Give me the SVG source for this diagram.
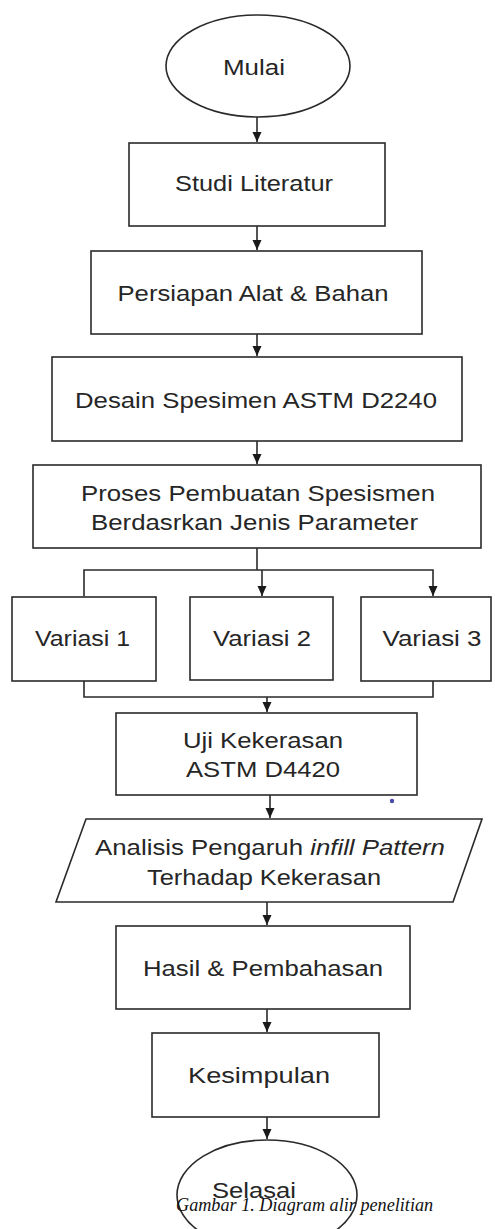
<svg xmlns="http://www.w3.org/2000/svg" width="495" height="1229" viewBox="0 0 495 1229">
<style>
.box{fill:#fff;stroke:#2a2a2a;stroke-width:1.6}
.t{font-family:"Liberation Sans",Arial,sans-serif;font-size:22px;fill:#262626;text-anchor:middle}
.ln{fill:none;stroke:#2a2a2a;stroke-width:1.6}
.cap{font-family:"Liberation Serif","Times New Roman",serif;font-style:italic;font-size:18.2px;fill:#111}
</style>
<defs>
<marker id="ah" viewBox="0 0 10 10" refX="10" refY="5" markerWidth="10" markerHeight="10" markerUnits="userSpaceOnUse" orient="auto">
<path d="M0,0.5 L10,5 L0,9.5 Z" fill="#1a1a1a"/>
</marker>
</defs>
<rect width="495" height="1229" fill="#fff"/>
<g id="connectors">
<line class="ln" x1="257" y1="117" x2="257" y2="142" marker-end="url(#ah)"/>
<line class="ln" x1="257" y1="226" x2="257" y2="250" marker-end="url(#ah)"/>
<line class="ln" x1="257" y1="334" x2="257" y2="356" marker-end="url(#ah)"/>
<line class="ln" x1="257" y1="441" x2="257" y2="464" marker-end="url(#ah)"/>
<polyline class="ln" points="257,548 257,570"/>
<polyline class="ln" points="84,596 84,570 433,570 433,596" marker-start="url(#ah)" marker-end="url(#ah)"/>
<line class="ln" x1="262" y1="570" x2="262" y2="596" marker-end="url(#ah)"/>
<polyline class="ln" points="84,681 84,697 433,697 433,681"/>
<line class="ln" x1="267" y1="697" x2="267" y2="712" marker-end="url(#ah)"/>
<line class="ln" x1="270" y1="795" x2="270" y2="818" marker-end="url(#ah)"/>
<line class="ln" x1="267" y1="902" x2="267" y2="925" marker-end="url(#ah)"/>
<line class="ln" x1="267" y1="1009" x2="267" y2="1032" marker-end="url(#ah)"/>
<line class="ln" x1="267" y1="1117" x2="267" y2="1139" marker-end="url(#ah)"/>
</g>
<g id="mulai">
<ellipse class="box" cx="258" cy="66" rx="92" ry="51"/>
<text class="t" x="254" y="75" textLength="62" lengthAdjust="spacingAndGlyphs">Mulai</text>
</g>
<g id="studi">
<rect class="box" x="129" y="143" width="256" height="83"/>
<text class="t" x="254" y="191" textLength="158" lengthAdjust="spacingAndGlyphs">Studi Literatur</text>
</g>
<g id="persiapan">
<rect class="box" x="91" y="251" width="331" height="83"/>
<text class="t" x="253" y="301" textLength="271" lengthAdjust="spacingAndGlyphs">Persiapan Alat &amp; Bahan</text>
</g>
<g id="desain">
<rect class="box" x="52" y="357" width="410" height="84"/>
<text class="t" x="256" y="408" textLength="362" lengthAdjust="spacingAndGlyphs">Desain Spesimen ASTM D2240</text>
</g>
<g id="proses">
<rect class="box" x="33" y="465" width="448" height="83"/>
<text class="t" x="258" y="501" textLength="354" lengthAdjust="spacingAndGlyphs">Proses Pembuatan Spesismen</text>
<text class="t" x="254.5" y="530" textLength="327" lengthAdjust="spacingAndGlyphs">Berdasrkan Jenis Parameter</text>
</g>
<g id="variasi1">
<rect class="box" x="12" y="597" width="144" height="84"/>
<text class="t" x="82.5" y="646" textLength="95" lengthAdjust="spacingAndGlyphs">Variasi 1</text>
</g>
<g id="variasi2">
<rect class="box" x="190" y="597" width="143" height="83"/>
<text class="t" x="262" y="646" textLength="98" lengthAdjust="spacingAndGlyphs">Variasi 2</text>
</g>
<g id="variasi3">
<rect class="box" x="361" y="597" width="130" height="84"/>
<text class="t" x="432" y="646" textLength="99" lengthAdjust="spacingAndGlyphs">Variasi 3</text>
</g>
<g id="uji">
<rect class="box" x="116" y="713" width="301" height="82"/>
<text class="t" x="263" y="748" textLength="160" lengthAdjust="spacingAndGlyphs">Uji Kekerasan</text>
<text class="t" x="263" y="777" textLength="154" lengthAdjust="spacingAndGlyphs">ASTM D4420</text>
</g>
<circle cx="392" cy="801" r="2.2" fill="#4a4aa8"/>
<g id="analisis">
<polygon class="box" points="86,819 482,819 453,902 56,902"/>
<text class="t" x="270" y="855" textLength="350" lengthAdjust="spacingAndGlyphs">Analisis Pengaruh <tspan font-style="italic">infill Pattern</tspan></text>
<text class="t" x="264" y="885" textLength="234" lengthAdjust="spacingAndGlyphs">Terhadap Kekerasan</text>
</g>
<g id="hasil">
<rect class="box" x="116" y="926" width="294" height="83"/>
<text class="t" x="263" y="976" textLength="240" lengthAdjust="spacingAndGlyphs">Hasil &amp; Pembahasan</text>
</g>
<g id="kesimpulan">
<rect class="box" x="152" y="1033" width="227" height="84"/>
<text class="t" x="259" y="1083" textLength="142" lengthAdjust="spacingAndGlyphs">Kesimpulan</text>
</g>
<g id="selasai">
<ellipse class="box" cx="267" cy="1195" rx="90" ry="55"/>
<text class="t" x="254" y="1198" textLength="84" lengthAdjust="spacingAndGlyphs">Selasai</text>
</g>
<text class="cap" x="176" y="1211">Gambar 1. Diagram alir penelitian</text>
</svg>
